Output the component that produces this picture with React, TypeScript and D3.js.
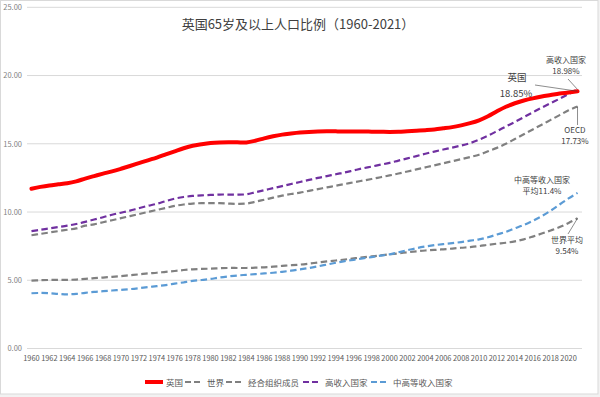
import React from "react";
import * as d3 from "d3";

const years: number[] = d3.range(1960, 2022);

const uk: number[] = [
  11.70, 11.84, 11.95, 12.03, 12.11, 12.25, 12.45, 12.63, 12.81, 12.98,
  13.17, 13.37, 13.58, 13.79, 13.99, 14.22, 14.45, 14.67, 14.85, 14.96,
  15.05, 15.10, 15.12, 15.11, 15.10, 15.22, 15.40, 15.55, 15.67, 15.75,
  15.82, 15.87, 15.90, 15.91, 15.91, 15.90, 15.90, 15.90, 15.89, 15.88,
  15.87, 15.88, 15.92, 15.96, 16.00, 16.05, 16.13, 16.22, 16.35, 16.51,
  16.72, 17.02, 17.38, 17.71, 17.97, 18.17, 18.33, 18.46, 18.57, 18.68,
  18.76, 18.85,
];

const world: number[] = [
  4.97, 5.0, 5.02, 5.03, 5.03, 5.05, 5.1, 5.15, 5.2, 5.25,
  5.3, 5.37, 5.43, 5.5, 5.55, 5.62, 5.68, 5.75, 5.8, 5.83,
  5.85, 5.88, 5.9, 5.9, 5.9, 5.92, 5.95, 6.0, 6.05, 6.1,
  6.15, 6.22, 6.3, 6.38, 6.45, 6.52, 6.6, 6.68, 6.75, 6.82,
  6.9, 6.97, 7.05, 7.12, 7.18, 7.22, 7.27, 7.32, 7.38, 7.43,
  7.5, 7.6, 7.68, 7.75, 7.85, 8.0, 8.2, 8.42, 8.65, 8.9,
  9.2, 9.54,
];

const oecd: number[] = [
  8.3, 8.4, 8.5, 8.6, 8.7, 8.8, 9.0, 9.1, 9.25, 9.4,
  9.55, 9.7, 9.85, 10.0, 10.15, 10.3, 10.45, 10.55, 10.62, 10.65,
  10.65, 10.65, 10.62, 10.6, 10.62, 10.75, 10.9, 11.05, 11.2, 11.32,
  11.42, 11.55, 11.68, 11.8, 11.93, 12.05, 12.18, 12.3, 12.42, 12.55,
  12.68, 12.82, 12.97, 13.12, 13.27, 13.42, 13.57, 13.72, 13.87, 14.03,
  14.2, 14.45, 14.7, 15.0, 15.35, 15.7, 16.05, 16.4, 16.75, 17.1,
  17.45, 17.73,
];

const highIncome: number[] = [
  8.6, 8.7, 8.8, 8.9, 9.0, 9.12, 9.28, 9.45, 9.62, 9.8,
  9.95, 10.1, 10.28, 10.45, 10.6, 10.8, 10.98, 11.1, 11.18, 11.22,
  11.25, 11.28, 11.28, 11.27, 11.3, 11.45, 11.6, 11.75, 11.9, 12.05,
  12.2, 12.35, 12.5, 12.63, 12.77, 12.9, 13.05, 13.2, 13.33, 13.47,
  13.6, 13.77, 13.93, 14.1, 14.27, 14.43, 14.58, 14.72, 14.87, 15.05,
  15.3, 15.6, 15.93, 16.27, 16.6, 16.95, 17.3, 17.65, 17.98, 18.3,
  18.65, 18.98,
];

const upperMiddle: number[] = [
  4.05, 4.07, 4.05, 4.0, 3.97, 4.0, 4.08, 4.15, 4.2, 4.25,
  4.3, 4.35, 4.42, 4.5, 4.57, 4.65, 4.75, 4.85, 4.95, 5.02,
  5.1, 5.2, 5.28, 5.35, 5.4, 5.45, 5.5, 5.55, 5.62, 5.7,
  5.8, 5.9, 6.02, 6.15, 6.28, 6.4, 6.5, 6.6, 6.7, 6.8,
  6.9, 7.05, 7.2, 7.35, 7.47, 7.57, 7.65, 7.72, 7.8, 7.9,
  8.0, 8.15, 8.35, 8.55, 8.8, 9.05, 9.35, 9.7, 10.1, 10.55,
  11.0, 11.4,
];

const yTicks: number[] = [0, 5, 10, 15, 20, 25];
const xTickYears: number[] = d3.range(1960, 2021, 2);

const seriesNames: string[] = ["英国", "世界", "经合组织成员", "高收入国家", "中高等收入国家"];
const seriesColors: string[] = ["#FF0000", "#808080", "#808080", "#7030A0", "#5B9BD5"];
const seriesData: number[][] = [uk, world, oecd, highIncome, upperMiddle];

const title = "英国65岁及以上人口比例（1960-2021）";

const FONT = "'Noto Sans CJK SC', 'Noto Sans', sans-serif";

export default function App() {
  const W = 600;
  const H = 397;
  const left = 27;
  const right = 582;
  const x = d3.scaleBand<number>().domain(years).range([left, right]).padding(0);
  const cx = (yr: number) => (x(yr) as number) + x.bandwidth() / 2;
  const y = d3.scaleLinear().domain([0, 25]).range([348.5, 7.3]);

  const line = (vals: number[]) =>
    d3
      .line<number>()
      .x((_, i) => cx(years[i]))
      .y((v) => y(v))
      .curve(d3.curveCatmullRom.alpha(0.5))(vals) as string;

  const last = years[years.length - 1];
  const ex = cx(last);

  const legendItems = [
    { lx: 145, tx: 166 },
    { lx: 185, tx: 207 },
    { lx: 226, tx: 248 },
    { lx: 303, tx: 325 },
    { lx: 371, tx: 393 },
  ];

  const drawOrder = [2, 1, 4, 3, 0];

  return (
    <svg
      width={W}
      height={H}
      style={{ position: "fixed", left: 0, top: 0, display: "block" }}
      fontFamily={FONT}
    >
      <rect x={0} y={0} width={W} height={H} fill="#f2f2f2" />
      <rect x={0.5} y={0.5} width={597.5} height={393.5} fill="#ffffff" stroke="#d9d9d9" strokeWidth={1} />

      {yTicks.map((t) => (
        <g key={t}>
          <line x1={left} x2={right} y1={y(t)} y2={y(t)} stroke="#d9d9d9" strokeWidth={1} />
          <text x={22} y={y(t) + 2.8} textAnchor="end" fontSize={7.5} fill="#7f7f7f">
            {d3.format(".2f")(t)}
          </text>
        </g>
      ))}

      {xTickYears.map((yr) => (
        <text key={yr} x={cx(yr)} y={361} textAnchor="middle" fontSize={7.4} fill="#595959">
          {yr}
        </text>
      ))}

      <text x={298} y={29} textAnchor="middle" fontSize={13} fill="#404040">
        {title}
      </text>

      {drawOrder.map((i) => (
        <path
          key={i}
          d={line(seriesData[i])}
          fill="none"
          stroke={seriesColors[i]}
          strokeWidth={i === 0 ? 4 : 2.2}
          strokeDasharray={i === 0 ? undefined : "6.5,3.5"}
          strokeLinecap={i === 0 ? "round" : "butt"}
        />
      ))}

      {/* annotations */}
      <g fill="#404040">
        <text x={517} y={81} textAnchor="middle" fontSize={9.5}>英国</text>
        <text x={516} y={96.5} textAnchor="middle" fontSize={9.5}>18.85%</text>
        <line x1={535} y1={85} x2={ex} y2={y(uk[uk.length - 1])} stroke="#404040" strokeWidth={0.6} />

        <text x={566} y={63} textAnchor="middle" fontSize={8}>高收入国家</text>
        <text x={566} y={74} textAnchor="middle" fontSize={8}>18.98%</text>
        <line x1={568} y1={79} x2={ex} y2={y(highIncome[highIncome.length - 1])} stroke="#404040" strokeWidth={0.6} />

        <line x1={ex} y1={y(oecd[oecd.length - 1])} x2={ex} y2={125} stroke="#404040" strokeWidth={0.6} />
        <text x={575} y={133} textAnchor="middle" fontSize={8}>OECD</text>
        <text x={575} y={144} textAnchor="middle" fontSize={8}>17.73%</text>

        <text x={542} y={183} textAnchor="middle" fontSize={8}>中高等收入国家</text>
        <text x={542} y={194} textAnchor="middle" fontSize={8}>平均11.4%</text>

        <line x1={ex} y1={y(world[world.length - 1])} x2={568} y2={234} stroke="#404040" strokeWidth={0.6} />
        <text x={567} y={243} textAnchor="middle" fontSize={8}>世界平均</text>
        <text x={567} y={254} textAnchor="middle" fontSize={8}>9.54%</text>
      </g>

      {/* legend */}
      {legendItems.map((it, i) => (
        <g key={i}>
          <line
            x1={it.lx}
            x2={it.lx + (i === 0 ? 18 : 15)}
            y1={382}
            y2={382}
            stroke={seriesColors[i]}
            strokeWidth={i === 0 ? 4 : 2.2}
            strokeDasharray={i === 0 ? undefined : "6,3"}
          />
          <text x={it.tx} y={385.5} fontSize={8.5} fill="#595959">
            {seriesNames[i]}
          </text>
        </g>
      ))}
    </svg>
  );
}
